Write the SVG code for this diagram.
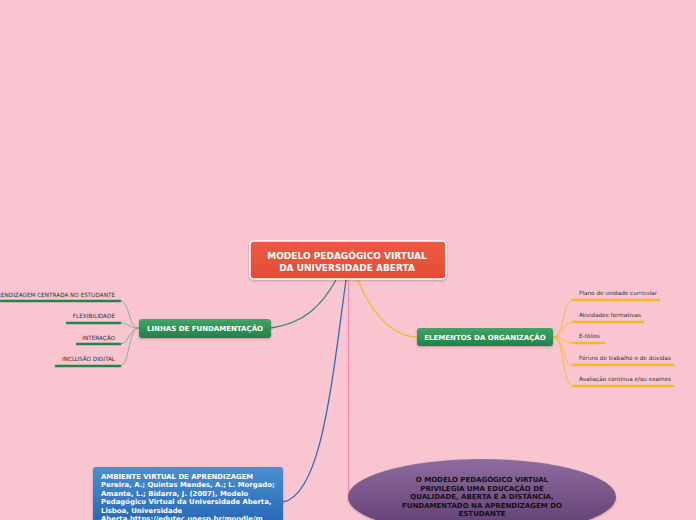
<svg xmlns="http://www.w3.org/2000/svg" width="696" height="520" viewBox="0 0 696 520">
<defs>
<linearGradient id="gRed" x1="0" y1="0" x2="0" y2="1"><stop offset="0" stop-color="#ee5a44"/><stop offset="1" stop-color="#e44b35"/></linearGradient>
<linearGradient id="gGreen" x1="0" y1="0" x2="0" y2="1"><stop offset="0" stop-color="#3fa565"/><stop offset="1" stop-color="#23804a"/></linearGradient>
<linearGradient id="gBlue" x1="0" y1="0" x2="0" y2="1"><stop offset="0" stop-color="#4a8fd2"/><stop offset="1" stop-color="#1e5fae"/></linearGradient>
<linearGradient id="gPurple" x1="0" y1="0" x2="0" y2="1"><stop offset="0" stop-color="#8f6c9f"/><stop offset="1" stop-color="#5e3a70"/></linearGradient>
<filter id="sh" x="-10%" y="-20%" width="120%" height="150%"><feDropShadow dx="0" dy="1" stdDeviation="1" flood-color="#000" flood-opacity="0.25"/></filter>
</defs>
<style>
text{font-family:"DejaVu Sans",Verdana,sans-serif}
.t{fill:#fff;font-weight:bold;text-anchor:middle}
.sub{font-size:5.7px;fill:#333}
.ul{stroke-width:2.5;stroke-linecap:round;fill:none}
.c{fill:none}
</style>
<rect width="696" height="520" fill="#f9c5d0"/>
<g id="connectors">
<path class="c" d="M271,328 C305,323 322,305 336,280" stroke="#3d8c62" stroke-width="1.3"/>
<path class="c" d="M346,280 C332,380 322,495 283,502" stroke="#2c6db5" stroke-width="1.3"/>
<path class="c" d="M348.5,280 L348.5,497" stroke="#f28cae" stroke-width="1.3"/>
<path class="c" d="M358,280 C370,310 390,336 417,337" stroke="#f7b826" stroke-width="1.3"/>
<g stroke="#86a88f" stroke-width="0.9" fill="none">
<path d="M139,328 C128,328 130,301 120,301"/>
<path d="M139,328 C128,328 130,323 120,323"/>
<path d="M139,328 C128,328 130,344 120,344"/>
<path d="M139,328 C128,328 130,366 120,366"/>
</g>
<g stroke="#f7b826" stroke-width="0.9" fill="none">
<path d="M553,337 C565,337 562,300 573,300"/>
<path d="M553,337 C565,337 562,322 573,322"/>
<path d="M553,337 C565,337 562,343 573,343"/>
<path d="M553,337 C565,337 562,365 573,365"/>
<path d="M553,337 C565,337 562,386 573,386"/>
</g>
</g>
<g id="central">
<rect x="250" y="241" width="196" height="38" rx="4" fill="url(#gRed)" stroke="#fff" stroke-width="1.5" filter="url(#sh)"/>
<text class="t" x="347" y="259" font-size="9">MODELO PEDAGÓGICO VIRTUAL</text>
<text class="t" x="347" y="270.5" font-size="9">DA UNIVERSIDADE ABERTA</text>
</g>
<g id="linhas">
<rect x="139" y="319" width="132" height="19" rx="3" fill="url(#gGreen)" filter="url(#sh)"/>
<text class="t" x="205" y="331" font-size="7">LINHAS DE FUNDAMENTAÇÃO</text>
</g>
<g id="linhas-items">
<text class="sub" x="115" y="297" text-anchor="end">APRENDIZAGEM CENTRADA NO ESTUDANTE</text>
<line class="ul" x1="-2" y1="301" x2="120" y2="301" stroke="#23844a"/>
<text class="sub" x="115" y="318" text-anchor="end">FLEXIBILIDADE</text>
<line class="ul" x1="67" y1="323" x2="120" y2="323" stroke="#23844a"/>
<text class="sub" x="115" y="340" text-anchor="end">INTERAÇÃO</text>
<line class="ul" x1="77" y1="344" x2="120" y2="344" stroke="#23844a"/>
<text class="sub" x="115" y="361" text-anchor="end">INCLUSÃO DIGITAL</text>
<line class="ul" x1="56" y1="366" x2="120" y2="366" stroke="#23844a"/>
</g>
<g id="elementos">
<rect x="417" y="328" width="136" height="18" rx="3" fill="url(#gGreen)" filter="url(#sh)"/>
<text class="t" x="485" y="340" font-size="7">ELEMENTOS DA ORGANIZAÇÃO</text>
</g>
<g id="elementos-items">
<text class="sub" x="579" y="295">Plano de unidade curricular</text>
<line class="ul" x1="573" y1="300" x2="659" y2="300" stroke="#f7b826"/>
<text class="sub" x="579" y="317">Atividades formativas</text>
<line class="ul" x1="573" y1="322" x2="643" y2="322" stroke="#f7b826"/>
<text class="sub" x="579" y="338">E-fólios</text>
<line class="ul" x1="573" y1="343" x2="604" y2="343" stroke="#f7b826"/>
<text class="sub" x="579" y="360">Fóruns de trabalho e de dúvidas</text>
<line class="ul" x1="573" y1="365" x2="673" y2="365" stroke="#f7b826"/>
<text class="sub" x="579" y="381">Avaliação contínua e/ou exames</text>
<line class="ul" x1="573" y1="386" x2="673" y2="386" stroke="#f7b826"/>
</g>
<g id="modelo">
<ellipse cx="482" cy="497" rx="134" ry="38" fill="url(#gPurple)" filter="url(#sh)"/>
<g font-size="7" font-weight="bold" fill="#111" text-anchor="middle">
<text x="482" y="482">O MODELO PEDAGÓGICO VIRTUAL</text>
<text x="482" y="490.5">PRIVILEGIA UMA EDUCAÇÃO DE</text>
<text x="482" y="499">QUALIDADE, ABERTA E A DISTÂNCIA,</text>
<text x="482" y="507.5">FUNDAMENTADO NA APRENDIZAGEM DO</text>
<text x="482" y="516">ESTUDANTE</text>
</g>
</g>
<g id="ambiente">
<rect x="93" y="467" width="190" height="70" rx="3" fill="url(#gBlue)" filter="url(#sh)"/>
<g font-size="6.9" font-weight="bold" fill="#fff">
<text x="101" y="478.5">AMBIENTE VIRTUAL DE APRENDIZAGEM</text>
<text x="101" y="487">Pereira, A.; Quintas Mendes, A.; L. Morgado;</text>
<text x="101" y="495.5">Amante, L.; Bidarra, J. (2007), Modelo</text>
<text x="101" y="504">Pedagógico Virtual da Universidade Aberta,</text>
<text x="101" y="512.5">Lisboa, Universidade</text>
<text x="101" y="521">Aberta.https://edutec.unesp.br/moodle/m</text>
</g>
</g>
</svg>
